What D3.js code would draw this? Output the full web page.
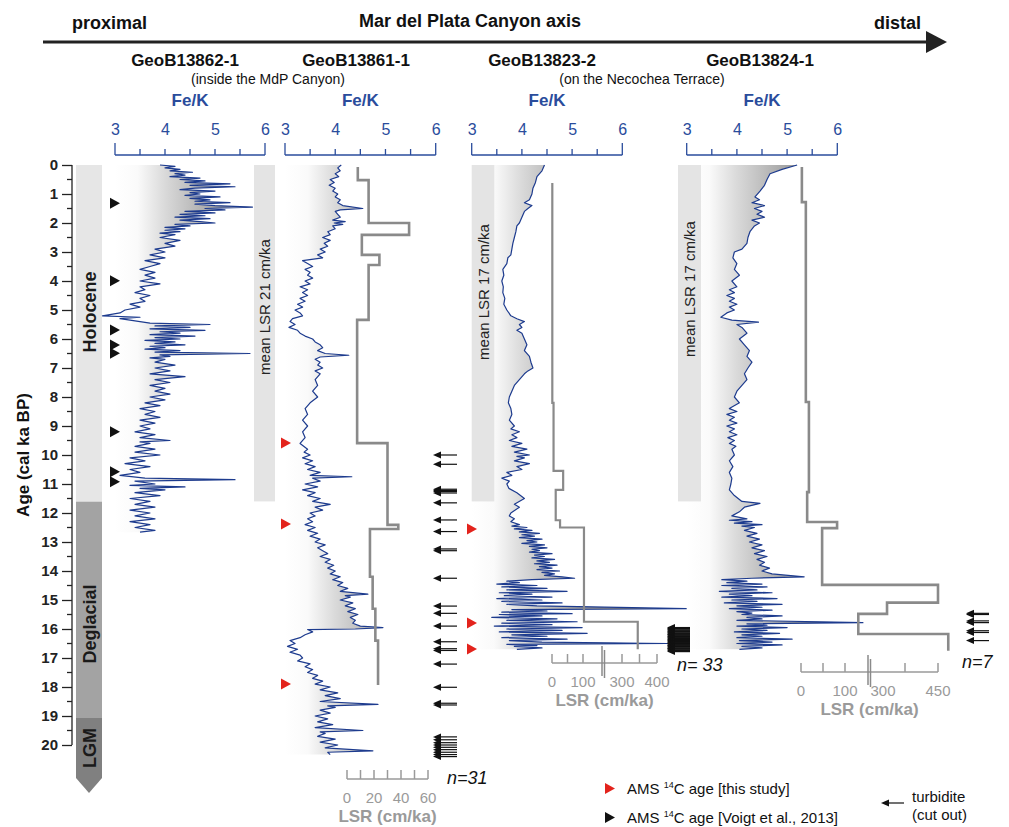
<!DOCTYPE html>
<html><head><meta charset="utf-8">
<script src="https://cdn.jsdelivr.net/npm/d3@7"></script>
<style>
body{margin:0;background:#fff}
svg{display:block}
text{font-family:"Liberation Sans",Arial,Helvetica,sans-serif}
</style>
</head><body>
<svg id="chart" width="1009" height="827"></svg>
<script>
// ---------------- DATA ----------------
const coreNames = ["GeoB13862-1","GeoB13861-1","GeoB13823-2","GeoB13824-1"];
const ageTicks = [0,1,2,3,4,5,6,7,8,9,10,11,12,13,14,15,16,17,18,19,20];
const feKTicks = [3,4,5,6];
const eras = [["Holocene",0,11.61],["Deglacial",11.61,19.07],["LGM",19.07,21.14]];

// Fe/K records: [age (cal ka BP), Fe/K]
const fek13862 = [[0,3.9],[0.05,4.2],[0.1,4.0],[0.15,4.3],[0.2,4.1],[0.25,4.55],[0.3,4.2],[0.35,4.4],[0.4,4.1],[0.45,4.7],[0.5,4.3],[0.55,4.8],[0.6,4.4],[0.65,5.3],[0.7,4.5],[0.75,5.4],[0.8,4.6],[0.85,4.3],[0.9,5.0],[0.95,4.5],[1.0,4.7],[1.05,4.4],[1.1,5.1],[1.15,4.5],[1.2,4.9],[1.25,4.6],[1.3,5.3],[1.35,4.6],[1.4,5.0],[1.45,5.75],[1.5,4.8],[1.55,5.2],[1.6,4.4],[1.65,5.0],[1.7,4.3],[1.75,4.8],[1.8,4.2],[1.85,4.9],[1.9,4.3],[1.95,4.7],[2.0,5.0],[2.05,4.2],[2.1,4.5],[2.15,4.0],[2.2,4.4],[2.25,4.0],[2.3,4.3],[2.35,3.9],[2.4,4.2],[2.5,3.9],[2.6,4.3],[2.7,4.0],[2.8,4.2],[2.9,3.8],[3.0,4.0],[3.1,3.7],[3.2,4.0],[3.3,3.6],[3.4,3.9],[3.5,3.7],[3.6,3.5],[3.7,3.8],[3.8,3.6],[3.9,3.8],[4.0,3.5],[4.1,3.9],[4.2,3.5],[4.3,3.6],[4.4,3.4],[4.5,3.7],[4.6,3.5],[4.7,3.6],[4.8,3.3],[4.9,3.5],[5.0,3.2],[5.1,3.1],[5.2,2.75],[5.25,3.5],[5.3,3.1],[5.35,3.3],[5.45,3.7],[5.5,4.9],[5.55,3.8],[5.6,4.5],[5.65,3.7],[5.7,4.8],[5.75,3.9],[5.8,4.3],[5.85,3.7],[5.9,4.6],[5.95,3.8],[6.0,4.3],[6.05,3.6],[6.1,4.2],[6.15,3.8],[6.2,4.4],[6.25,3.7],[6.3,4.0],[6.35,3.6],[6.4,4.3],[6.45,3.8],[6.5,5.7],[6.55,3.9],[6.6,4.1],[6.65,3.7],[6.7,4.0],[6.8,3.8],[6.9,4.2],[7.0,3.8],[7.1,4.1],[7.2,3.7],[7.3,4.4],[7.4,3.8],[7.5,4.1],[7.6,3.7],[7.7,4.0],[7.8,3.8],[7.9,4.1],[8.0,3.7],[8.1,4.0],[8.2,3.6],[8.3,3.9],[8.4,3.5],[8.5,3.8],[8.6,3.6],[8.7,3.9],[8.8,3.5],[8.9,3.8],[9.0,3.5],[9.1,3.7],[9.2,3.4],[9.3,3.8],[9.4,3.5],[9.5,4.1],[9.55,3.5],[9.6,3.7],[9.7,3.4],[9.8,3.8],[9.9,3.4],[10.0,3.9],[10.1,3.3],[10.2,3.6],[10.3,3.2],[10.4,3.7],[10.5,3.3],[10.6,3.5],[10.7,3.1],[10.8,3.6],[10.85,5.4],[10.9,3.4],[11.0,3.8],[11.05,3.3],[11.1,4.4],[11.15,3.5],[11.2,4.0],[11.3,3.4],[11.4,3.9],[11.5,3.3],[11.6,3.7],[11.7,3.4],[11.8,3.8],[11.9,3.3],[12.0,3.7],[12.1,3.4],[12.2,3.8],[12.3,3.3],[12.4,3.7],[12.5,3.4],[12.6,3.8],[12.66,3.5]];

const fek13861 = [[0,4.12],[0.1,4.05],[0.2,4.1],[0.3,4.0],[0.4,4.07],[0.5,3.9],[0.6,3.98],[0.7,3.88],[0.8,4.0],[0.9,3.95],[1.0,4.05],[1.1,4.0],[1.2,4.1],[1.3,4.05],[1.4,4.15],[1.5,4.55],[1.55,4.1],[1.6,4.0],[1.7,4.05],[1.8,4.1],[1.9,3.95],[1.95,4.2],[2.0,3.98],[2.05,4.15],[2.1,3.95],[2.2,4.0],[2.3,3.85],[2.4,3.9],[2.5,3.75],[2.6,3.9],[2.7,3.78],[2.8,3.85],[2.9,3.7],[3.0,3.8],[3.1,3.65],[3.2,3.75],[3.3,3.35],[3.4,3.45],[3.5,3.55],[3.6,3.4],[3.7,3.5],[3.8,3.45],[3.9,3.55],[4.0,3.4],[4.1,3.5],[4.2,3.3],[4.3,3.45],[4.4,3.35],[4.5,3.45],[4.6,3.3],[4.7,3.4],[4.8,3.25],[4.9,3.35],[5.0,3.2],[5.1,3.3],[5.2,3.35],[5.3,3.15],[5.4,3.1],[5.5,3.2],[5.6,3.08],[5.7,3.25],[5.8,3.3],[5.9,3.4],[6.0,3.55],[6.1,3.6],[6.2,3.7],[6.3,3.75],[6.4,3.65],[6.5,3.8],[6.56,4.27],[6.62,3.7],[6.7,3.6],[6.8,3.7],[6.9,3.65],[7.0,3.75],[7.1,3.6],[7.2,3.7],[7.4,3.6],[7.6,3.65],[7.8,3.55],[8.0,3.65],[8.2,3.5],[8.4,3.4],[8.6,3.45],[8.8,3.35],[9.0,3.45],[9.2,3.35],[9.4,3.4],[9.6,3.3],[9.8,3.45],[9.9,3.38],[10.0,3.5],[10.1,3.35],[10.2,3.55],[10.3,3.4],[10.4,3.6],[10.5,3.45],[10.6,3.7],[10.7,3.5],[10.75,4.33],[10.8,3.55],[10.9,3.7],[11.0,3.4],[11.1,3.65],[11.2,3.35],[11.3,3.6],[11.4,3.45],[11.5,3.7],[11.6,3.55],[11.7,3.9],[11.8,3.6],[11.9,3.75],[12.0,3.5],[12.1,3.6],[12.2,3.45],[12.3,3.55],[12.4,3.4],[12.5,3.6],[12.6,3.45],[12.7,3.65],[12.8,3.5],[12.9,3.7],[13.0,3.6],[13.1,3.8],[13.2,3.65],[13.3,3.75],[13.4,3.85],[13.5,3.7],[13.6,3.9],[13.7,3.8],[13.8,3.97],[13.9,3.85],[14.0,4.0],[14.1,3.9],[14.2,4.1],[14.3,3.95],[14.4,4.15],[14.5,4.05],[14.6,4.25],[14.7,4.1],[14.8,4.65],[14.85,4.2],[14.9,4.3],[15.0,4.1],[15.1,4.35],[15.2,4.2],[15.3,4.4],[15.4,4.25],[15.5,4.45],[15.6,4.3],[15.7,4.4],[15.8,4.35],[15.9,4.5],[15.95,4.95],[16.0,4.4],[16.02,3.45],[16.1,3.55],[16.2,3.4],[16.3,3.3],[16.4,3.1],[16.5,3.2],[16.6,3.05],[16.7,3.25],[16.8,3.1],[16.9,3.3],[17.0,3.35],[17.1,3.25],[17.2,3.5],[17.3,3.4],[17.4,3.55],[17.5,3.45],[17.6,3.65],[17.7,3.55],[17.8,3.75],[17.9,3.6],[18.0,3.9],[18.1,3.7],[18.2,4.05],[18.3,3.8],[18.4,4.1],[18.5,3.7],[18.6,4.85],[18.65,3.85],[18.7,4.0],[18.8,3.7],[18.9,3.9],[19.0,3.6],[19.1,3.85],[19.2,3.65],[19.3,3.95],[19.4,3.6],[19.5,4.55],[19.55,3.7],[19.6,3.8],[19.7,3.65],[19.8,4.0],[19.9,3.7],[20.0,4.05],[20.1,3.8],[20.2,4.75],[20.25,3.85],[20.33,3.9]];

const fek13823 = [[0,4.45],[0.2,4.4],[0.4,4.3],[0.6,4.27],[0.8,4.22],[1.0,4.2],[1.2,4.15],[1.3,4.05],[1.4,4.2],[1.5,4.12],[1.6,4.05],[1.8,4.0],[2.0,3.95],[2.1,3.9],[2.3,3.88],[2.5,3.85],[2.7,3.82],[2.9,3.8],[3.1,3.78],[3.2,3.72],[3.4,3.7],[3.6,3.62],[3.8,3.64],[4.0,3.6],[4.2,3.63],[4.4,3.62],[4.6,3.66],[4.8,3.64],[5.0,3.7],[5.2,3.78],[5.3,3.9],[5.4,4.05],[5.5,3.95],[5.6,4.0],[5.7,3.9],[5.8,4.0],[6.0,4.05],[6.2,4.1],[6.4,4.05],[6.6,4.15],[6.8,4.18],[7.0,4.22],[7.1,4.12],[7.2,4.05],[7.4,3.95],[7.6,3.85],[7.8,3.8],[8.0,3.75],[8.2,3.73],[8.4,3.78],[8.6,3.8],[8.8,3.75],[9.0,3.85],[9.1,3.78],[9.2,3.95],[9.3,3.8],[9.4,3.9],[9.5,3.75],[9.6,4.0],[9.7,3.8],[9.8,4.1],[9.9,3.85],[10.0,4.15],[10.05,3.9],[10.1,4.05],[10.2,3.85],[10.3,4.15],[10.4,3.9],[10.5,4.0],[10.6,3.7],[10.7,3.8],[10.8,3.6],[10.9,3.75],[11.0,3.7],[11.15,3.74],[11.3,3.9],[11.5,4.05],[11.7,3.85],[11.8,3.95],[12.0,3.78],[12.1,3.75],[12.2,3.85],[12.3,3.78],[12.4,3.95],[12.45,3.8],[12.5,4.1],[12.55,3.85],[12.6,4.2],[12.65,3.95],[12.7,4.35],[12.75,4.0],[12.8,4.25],[12.85,3.95],[12.9,4.4],[12.95,4.1],[13.0,4.3],[13.05,4.0],[13.1,4.45],[13.15,4.15],[13.2,4.5],[13.25,4.2],[13.3,4.35],[13.35,4.15],[13.4,4.6],[13.45,4.25],[13.5,4.45],[13.55,4.2],[13.6,4.65],[13.65,4.3],[13.7,4.55],[13.75,4.25],[13.8,4.7],[13.85,4.35],[13.9,4.6],[13.95,4.3],[14.0,4.75],[14.05,4.4],[14.1,4.65],[14.15,4.45],[14.2,4.8],[14.25,5.05],[14.3,4.2],[14.35,3.7],[14.4,3.95],[14.45,3.5],[14.5,4.3],[14.55,3.6],[14.6,4.5],[14.65,3.7],[14.7,4.9],[14.75,3.55],[14.8,4.2],[14.85,3.65],[14.9,4.6],[14.95,3.5],[15.0,4.4],[15.05,3.6],[15.1,4.8],[15.15,3.7],[15.2,4.3],[15.3,7.28],[15.33,3.8],[15.38,4.5],[15.42,3.6],[15.47,5.0],[15.5,3.55],[15.55,4.4],[15.6,3.4],[15.65,4.7],[15.7,3.7],[15.75,5.1],[15.8,3.6],[15.85,4.6],[15.9,3.45],[15.95,5.2],[16.0,3.7],[16.05,4.8],[16.1,3.55],[16.15,5.3],[16.2,3.8],[16.25,4.5],[16.3,3.6],[16.35,4.9],[16.4,3.75],[16.45,4.4],[16.5,6.9],[16.53,3.7],[16.57,4.3],[16.6,3.85],[16.65,4.4],[16.7,3.9]];

const fek13824 = [[0,5.2],[0.15,4.9],[0.3,4.66],[0.5,4.6],[0.7,4.55],[0.9,4.46],[1.1,4.36],[1.2,4.45],[1.3,4.3],[1.4,4.55],[1.5,4.35],[1.6,4.5],[1.7,4.4],[1.8,4.55],[1.9,4.3],[2.0,4.45],[2.1,4.35],[2.3,4.26],[2.5,4.22],[2.7,4.2],[2.9,4.1],[3.0,3.95],[3.2,3.92],[3.4,4.0],[3.6,3.95],[3.8,4.05],[4.0,3.9],[4.2,4.0],[4.3,3.85],[4.4,3.95],[4.5,3.8],[4.6,3.95],[4.7,3.85],[4.8,4.0],[4.9,3.85],[5.0,3.95],[5.1,3.8],[5.25,3.68],[5.35,3.9],[5.42,4.43],[5.5,4.0],[5.6,4.1],[5.8,4.2],[6.0,4.05],[6.2,4.15],[6.4,4.25],[6.6,4.2],[6.8,4.3],[7.0,4.22],[7.2,4.15],[7.4,4.2],[7.6,4.1],[7.8,4.0],[8.0,3.95],[8.2,4.05],[8.4,3.85],[8.5,4.0],[8.6,3.8],[8.7,3.95],[8.8,3.85],[8.9,4.0],[9.0,3.8],[9.1,3.95],[9.2,3.85],[9.3,4.0],[9.4,3.82],[9.5,3.95],[9.6,3.85],[9.7,3.98],[9.8,3.9],[10.0,3.95],[10.2,3.85],[10.4,3.92],[10.6,3.85],[10.8,3.9],[11.0,3.88],[11.2,3.85],[11.4,3.95],[11.6,4.1],[11.67,4.46],[11.8,4.15],[11.96,4.05],[12.1,3.9],[12.2,4.2],[12.25,3.85],[12.3,4.3],[12.35,3.95],[12.4,4.5],[12.45,4.1],[12.5,4.35],[12.6,4.15],[12.7,4.4],[12.8,4.2],[12.9,4.45],[13.0,4.25],[13.1,4.5],[13.2,4.3],[13.3,4.55],[13.4,4.35],[13.5,4.6],[13.6,4.4],[13.7,4.55],[13.8,4.45],[13.9,4.65],[14.0,4.5],[14.1,4.7],[14.2,5.34],[14.25,4.3],[14.3,3.7],[14.35,4.2],[14.4,3.8],[14.45,4.5],[14.5,3.7],[14.55,4.6],[14.6,3.9],[14.65,4.4],[14.7,3.65],[14.75,4.7],[14.8,3.85],[14.85,4.3],[14.9,3.7],[14.95,4.8],[15.0,3.9],[15.05,4.4],[15.1,3.75],[15.15,4.9],[15.2,4.0],[15.25,4.5],[15.3,3.85],[15.35,4.7],[15.4,4.0],[15.45,4.3],[15.5,4.1],[15.55,4.9],[15.6,4.2],[15.65,4.5],[15.7,4.0],[15.78,6.51],[15.82,4.2],[15.87,4.6],[15.9,4.0],[15.95,5.0],[16.0,4.1],[16.05,4.6],[16.1,3.95],[16.15,4.85],[16.2,4.1],[16.25,4.5],[16.3,4.0],[16.35,5.1],[16.4,4.05],[16.45,4.7],[16.5,4.0],[16.55,4.9],[16.6,4.1],[16.65,4.5],[16.7,4.05]];

// Linear sedimentation rates: [age top, age bottom, LSR cm/ka]
const lsr13861 = [[0.07,0.52,8],[0.52,2.0,16],[2.0,2.41,46],[2.41,3.1,11],[3.1,3.45,24],[3.45,5.34,16],[5.34,9.59,7.5],[9.59,12.41,30],[12.41,12.55,38],[12.55,14.2,17],[14.2,15.3,19],[15.3,16.4,21],[16.4,17.93,23]];
const lsr13823 = [[0.62,8.2,1],[8.2,10.55,5],[10.55,11.2,36],[11.2,12.25,12],[12.25,12.5,26],[12.5,15.75,105],[15.75,16.7,345]];
const lsr13824 = [[0.07,1.28,2],[1.28,8.17,11],[8.17,11.28,18],[11.28,12.31,14],[12.31,12.52,82],[12.52,14.48,48],[14.48,15.09,450],[15.09,15.48,311],[15.48,16.17,170],[16.17,16.75,478]];

const meanLSR = ["mean LSR  21 cm/ka", null, "mean LSR 17 cm/ka", "mean LSR 17 cm/ka"];

// turbidites (cut out), ages
const turb13861 = [10.0,10.32,11.18,11.22,11.26,11.31,11.65,12.24,12.64,13.24,13.3,14.25,15.21,15.46,15.9,16.44,16.68,16.74,17.21,18.01,18.56,18.62,19.72,19.82,19.92,20.0,20.08,20.16,20.25,20.33,20.4];
const turb13823 = [15.95,15.98,16.0,16.03,16.06,16.08,16.1,16.13,16.16,16.18,16.2,16.23,16.26,16.28,16.3,16.33,16.36,16.38,16.4,16.43,16.46,16.48,16.5,16.53,16.56,16.58,16.6,16.63,16.66,16.68,16.7,16.74,16.78];
const turb13824 = [15.46,15.5,15.72,15.78,16.06,16.12,16.4];

// AMS 14C ages
const amsVoigt13862 = [1.32,3.99,5.69,6.21,6.49,9.2,10.58,10.92];
const amsThis13861 = [9.59,12.38,17.9];
const amsThis13823 = [12.55,15.79,16.69];

// LSR axis ticks
const lsrTicks13861 = [0,10,20,30,40,50,60], lsrLabels13861 = [0,20,40,60];
const lsrTicks13823 = [0,50,100,300,350,400], lsrLabels13823 = [0,100,300,400];
const lsrTicks13824 = [0,50,100,360,450], lsrLabels13824 = [0,100,300,450];

// ---------------- DRAW ----------------
const svg = d3.select("#chart");
const FONT = '"Liberation Sans",Arial,sans-serif';
const blue = "#2a4c9c", lineBlue = "#1d3b8e", lsrGrey = "#8a8a8a", axGrey = "#9a9a9a";
const y = d3.scaleLinear().domain([0,20]).range([165,745]);

// header arrow
svg.append("line").attr("x1",43).attr("x2",930).attr("y1",42).attr("y2",42).attr("stroke","#222").attr("stroke-width",3);
svg.append("path").attr("d","M926,31 L947,42 L926,53 Z").attr("fill","#222");
svg.append("text").attr("x",72).attr("y",29).attr("font-size",18).attr("font-weight","bold").attr("fill","#111").text("proximal");
svg.append("text").attr("x",470).attr("y",27).attr("text-anchor","middle").attr("font-size",18).attr("font-weight","bold").attr("fill","#111").text("Mar del Plata Canyon axis");
svg.append("text").attr("x",921).attr("y",29).attr("text-anchor","end").attr("font-size",18).attr("font-weight","bold").attr("fill","#111").text("distal");

// titles
const titleX = [185,356,542,760];
coreNames.forEach((n,i)=>{
  svg.append("text").attr("x",titleX[i]).attr("y",66).attr("text-anchor","middle").attr("font-size",17).attr("font-weight","bold").attr("fill","#111").text(n);
});
svg.append("text").attr("x",268).attr("y",84).attr("text-anchor","middle").attr("font-size",14).attr("fill","#111").text("(inside the MdP Canyon)");
svg.append("text").attr("x",642).attr("y",84).attr("text-anchor","middle").attr("font-size",14).attr("fill","#111").text("(on the Necochea Terrace)");

// age axis + era bar
eras.forEach((e,i)=>{
  const col = ["#e6e6e6","#a3a3a3","#808080"][i];
  if(e[0]==="LGM"){
    svg.append("path").attr("d",`M76,${y(e[1])} L102,${y(e[1])} L102,${y(e[2])} L89,${y(e[2])+15} L76,${y(e[2])} Z`).attr("fill",col);
  } else {
    svg.append("rect").attr("x",76).attr("width",26).attr("y",y(e[1])).attr("height",y(e[2])-y(e[1])).attr("fill",col);
  }
  const cy = [312,624,748][i];
  svg.append("text").attr("transform",`translate(90,${cy}) rotate(-90)`).attr("text-anchor","middle").attr("dominant-baseline","central")
    .attr("font-size",18).attr("font-weight","bold").attr("fill","#1a1a1a").text(e[0]);
});
const ageAxis = d3.axisLeft(y).tickValues(ageTicks).tickSize(10).tickPadding(4).tickFormat(d3.format("d"));
const ga = svg.append("g").attr("transform","translate(72,0)").call(ageAxis);
ga.select(".domain").attr("stroke","#222").attr("stroke-width",1.3).attr("d","M0,165V745");
ga.selectAll(".tick line").attr("stroke","#222").attr("stroke-width",1.3);
ga.selectAll(".tick text").attr("font-size",15).attr("font-weight","bold").attr("fill","#222").attr("font-family",FONT);
const minor = ageTicks.slice(0,-1).map(d=>d+0.5);
ga.selectAll(".minor").data(minor).enter().append("line").attr("x1",-5).attr("x2",0).attr("y1",d=>y(d)).attr("y2",d=>y(d)).attr("stroke","#222").attr("stroke-width",1.3);
svg.append("text").attr("transform","translate(23,455) rotate(-90)").attr("text-anchor","middle").attr("dominant-baseline","central")
  .attr("font-size",17).attr("font-weight","bold").attr("fill","#111").text("Age (cal ka BP)");

// panels
const feRanges = [[115,265],[285,435.7],[471.7,622.3],[686.7,837.3]];
const feData = [fek13862,fek13861,fek13823,fek13824];
const defs = svg.append("defs");

// mean LSR bars
const barX = [[254,275],null,[471.7,494.3],[678,701]];
const barTextY = [307,null,292,289];

feData.forEach((data,i)=>{
  const x = d3.scaleLinear().domain([3,6]).range(feRanges[i]);
  const gid = "grad"+i;
  const gr = defs.append("linearGradient").attr("id",gid).attr("gradientUnits","userSpaceOnUse")
    .attr("x1",x(3)).attr("x2",x(6)).attr("y1",0).attr("y2",0);
  [[0,"#ffffff"],[0.15,"#fafafa"],[0.33,"#dadada"],[0.5,"#bfbfbf"],[0.7,"#9d9d9d"],[1,"#777777"]]
    .forEach(s=>gr.append("stop").attr("offset",s[0]).attr("stop-color",s[1]));
  const area = d3.area().y(d=>y(d[0])).x0(x(3)).x1(d=>x(d[1]));
  svg.append("path").datum(data).attr("d",area).attr("fill",`url(#${gid})`);
  if(barX[i]){
    svg.append("rect").attr("x",barX[i][0]).attr("width",barX[i][1]-barX[i][0]).attr("y",y(0)).attr("height",y(11.6)-y(0)).attr("fill","#e4e4e4");
    svg.append("text").attr("transform",`translate(${(barX[i][0]+barX[i][1])/2},${barTextY[i]}) rotate(-90)`)
      .attr("text-anchor","middle").attr("dominant-baseline","central").attr("font-size",15).attr("fill","#222").text(meanLSR[i]);
  }
  const line = d3.line().y(d=>y(d[0])).x(d=>x(d[1]));
  svg.append("path").datum(data).attr("d",line).attr("fill","none").attr("stroke",lineBlue).attr("stroke-width",1.2).attr("stroke-linejoin","round");
  // Fe/K axis
  const ax = d3.axisTop(x).tickValues(feKTicks).tickSize(0).tickPadding(20).tickFormat(d3.format("d"));
  const g = svg.append("g").attr("transform","translate(0,155)").call(ax);
  g.select(".domain").remove();
  g.selectAll(".tick text").attr("font-size",16).attr("fill",blue).attr("font-family",FONT);
  g.append("line").attr("x1",x(3)).attr("x2",x(6)).attr("stroke",blue).attr("stroke-width",1.3);
  g.selectAll(".mt").data([3,3.5,4,4.5,5,5.5,6]).enter().append("line")
    .attr("x1",d=>x(d)).attr("x2",d=>x(d)).attr("y1",0).attr("y2",d=>(d===3||d===6)?-12:-6).attr("stroke",blue).attr("stroke-width",1.3);
  svg.append("text").attr("x",(x(3)+x(6))/2).attr("y",106).attr("text-anchor","middle").attr("font-size",17).attr("font-weight","bold").attr("fill",blue).text("Fe/K");
});

// LSR step curves and axes
const lsrCfg = [
  {data:lsr13861, scale:d3.scaleLinear().domain([0,60]).range([347,428]), ticks:lsrTicks13861, labels:lsrLabels13861, ay:779, brk:null, w:2.6},
  {data:lsr13823, scale:d3.scaleLinear().domain([0,100,300,400]).range([552,583,622,657]), ticks:lsrTicks13823, labels:lsrLabels13823, ay:663, brk:603, w:2.2},
  {data:lsr13824, scale:d3.scaleLinear().domain([0,100,300,450]).range([801,845,883,938]), ticks:lsrTicks13824, labels:lsrLabels13824, ay:672, brk:869, w:2.6}
];
lsrCfg.forEach(c=>{
  const pts = c.data.flatMap(s=>[[s[2],s[0]],[s[2],s[1]]]);
  const line = d3.line().x(d=>c.scale(d[0])).y(d=>y(d[1]));
  svg.append("path").datum(pts).attr("d",line).attr("fill","none").attr("stroke",lsrGrey).attr("stroke-width",c.w);
  const g = svg.append("g").attr("transform",`translate(0,${c.ay})`);
  const r = c.scale.range();
  g.append("line").attr("x1",r[0]).attr("x2",r[r.length-1]).attr("stroke",axGrey).attr("stroke-width",1.5);
  g.selectAll(".t").data(c.ticks).enter().append("line").attr("x1",d=>c.scale(d)).attr("x2",d=>c.scale(d)).attr("y1",0).attr("y2",-9).attr("stroke",axGrey).attr("stroke-width",1.5);
  g.selectAll(".l").data(c.labels).enter().append("text").attr("x",d=>c.scale(d)).attr("y",24).attr("text-anchor","middle").attr("font-size",15).attr("fill",axGrey).text(d=>d);
  g.append("text").attr("x",(r[0]+r[r.length-1])/2).attr("y",43).attr("text-anchor","middle").attr("font-size",17).attr("font-weight","bold").attr("fill",axGrey).text("LSR (cm/ka)");
  if(c.brk){
    g.append("line").attr("x1",c.brk-1).attr("x2",c.brk-1).attr("y1",-17).attr("y2",13).attr("stroke","#8a8a8a").attr("stroke-width",1.5);
    g.append("line").attr("x1",c.brk+1.5).attr("x2",c.brk+1.5).attr("y1",-13).attr("y2",15).attr("stroke","#8a8a8a").attr("stroke-width",1.5);
  }
});

// turbidite arrows
function arrows(ages,x0,x1){
  ages.forEach(a=>{
    svg.append("line").attr("x1",x0+6).attr("x2",x1).attr("y1",y(a)).attr("y2",y(a)).attr("stroke","#111").attr("stroke-width",1.2);
    svg.append("path").attr("d",`M${x0},${y(a)} L${x0+8},${y(a)-3.5} L${x0+8},${y(a)+3.5} Z`).attr("fill","#111");
  });
}
arrows(turb13861,433,457);
arrows(turb13823,667,690);
arrows(turb13824,966,989);
svg.append("text").attr("x",447).attr("y",784).attr("font-size",18).attr("font-style","italic").attr("fill","#111").text("n=31");
svg.append("text").attr("x",677).attr("y",671).attr("font-size",18).attr("font-style","italic").attr("fill","#111").text("n= 33");
svg.append("text").attr("x",962).attr("y",668).attr("font-size",18).attr("font-style","italic").attr("fill","#111").text("n=7");

// AMS triangles
function tri(ages,x0,col){
  ages.forEach(a=>svg.append("path").attr("d",`M${x0},${y(a)-5.5} L${x0+10},${y(a)} L${x0},${y(a)+5.5} Z`).attr("fill",col));
}
tri(amsVoigt13862,110,"#111");
tri(amsThis13861,281,"#e3231c");
tri(amsThis13823,467,"#e3231c");

// legend
svg.append("path").attr("d","M605,783 L615,788.5 L605,794 Z").attr("fill","#e3231c");
const l1 = svg.append("text").attr("x",627).attr("y",794).attr("font-size",15).attr("fill","#111");
l1.append("tspan").text("AMS ");
l1.append("tspan").attr("font-size",9).attr("dy",-6).text("14");
l1.append("tspan").attr("dy",6).text("C age [this study]");
svg.append("path").attr("d","M605,812 L615,817.5 L605,823 Z").attr("fill","#111");
const l2 = svg.append("text").attr("x",627).attr("y",823).attr("font-size",15).attr("fill","#111");
l2.append("tspan").text("AMS ");
l2.append("tspan").attr("font-size",9).attr("dy",-6).text("14");
l2.append("tspan").attr("dy",6).text("C age [Voigt et al., 2013]");
svg.append("line").attr("x1",888).attr("x2",904).attr("y1",803).attr("y2",803).attr("stroke","#111").attr("stroke-width",1.2);
svg.append("path").attr("d","M881,803 L889,799.5 L889,806.5 Z").attr("fill","#111");
svg.append("text").attr("x",912).attr("y",802).attr("font-size",15).attr("fill","#111").text("turbidite");
svg.append("text").attr("x",912).attr("y",820).attr("font-size",15).attr("fill","#111").text("(cut out)");
</script>
</body></html>
